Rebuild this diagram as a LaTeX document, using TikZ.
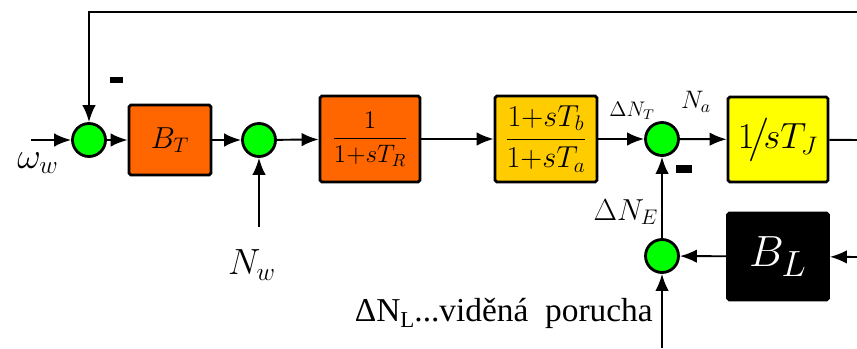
\documentclass[tikz,border=0pt]{standalone}
\usepackage{amsmath}
\usepackage{fontspec}
\setmainfont{LiberationSerif}[Extension=.ttf, UprightFont=*-Regular, BoldFont=*-Bold, ItalicFont=*-Italic, BoldItalicFont=*-BoldItalic]
\usepackage{tikz}
\usetikzlibrary{arrows.meta,positioning}
\definecolor{blkOrange}{HTML}{FF6600}
\definecolor{blkGold}{HTML}{FFCC00}
\definecolor{blkYellow}{HTML}{FFFF00}
\definecolor{sumGreen}{HTML}{00FF00}
\newcommand{\fsz}[1]{\fontsize{#1}{#1}\selectfont}

\begin{document}
\begin{tikzpicture}[
  x=0.02cm, y=-0.02cm,
  blk/.style={draw, line width=1.6pt, rounded corners=1pt, inner sep=0pt},
  sum/.style={circle, draw, line width=1.6pt, fill=sumGreen, minimum size=0.66cm, inner sep=0pt},
  minus/.style={fill=black, inner sep=0pt},
  sig/.style={-{Latex[length=3.4mm,width=2.7mm]}, line width=1.1pt},
  wire/.style={line width=1.1pt},
]
\useasboundingbox (0,0) rectangle (857,348);

% forward path
\node[sum] (s1) at (89,140) {};
\node[blk, fill=blkOrange, minimum width=1.64cm, minimum height=1.4cm, font=\fsz{17.28}] (bt) at (170,140) {$B_T$};
\node[sum] (s2) at (259,140) {};
\node[blk, fill=blkOrange, minimum width=2.0cm, minimum height=1.72cm, font=\fsz{14.4}] (tr) at (370,139) {$\dfrac{1}{1{+}sT_R}$};
\node[blk, fill=blkGold, minimum width=2.04cm, minimum height=1.72cm, font=\fsz{17.28}] (tab) at (546,139) {$\dfrac{1{+}sT_b}{1{+}sT_a}$};
\node[sum] (s3) at (662,139) {};
\node[blk, fill=blkYellow, minimum width=2.0cm, minimum height=1.7cm, font=\fsz{20.74}] (tj) at (778,139.5) {$1\!\big/\!sT_J$};

% load branch
\node[sum] (s4) at (662,256) {};
\node[blk, fill=black, text=white, minimum width=2.02cm, minimum height=1.74cm, font=\fsz{24.88}] (bl) at (778,256.5) {$B_L$};

% signs
\node[minus, minimum width=0.26cm, minimum height=0.12cm] (m1) at (116.5,80) {};
\node[minus, minimum width=0.32cm, minimum height=0.16cm] (m3) at (684,169) {};

% free ends
\coordinate (win) at (31,140);
\coordinate (ftop) at (857,12);
\coordinate (nwin) at (259,227);
\coordinate (out) at (857,140);
\coordinate (lin) at (857,257);
\coordinate (dnl) at (662,348);

\draw[sig] (win) -- (s1);
\draw[sig] (ftop) -| (s1.north);
\draw[sig] (s1) -- (bt);
\draw[sig] (bt) -- (s2);
\draw[sig] (nwin) -- (s2);
\draw[sig] (s2) -- (tr);
\draw[sig] (tr) -- (tab);
\draw[sig] (tab) -- (s3);
\draw[sig] (s3) -- (tj);
\draw[wire] (tj) -- (out);
\draw[sig] (lin) -- (bl);
\draw[sig] (bl) -- (s4);
\draw[sig] (s4) -- (s3);
\draw[sig] (dnl) -- (s4);

% labels
\node[font=\fsz{20.74}] (lw) at (38,163) {$\omega_w$};
\node[font=\fsz{20.74}] (lnw) at (252,265) {$N_w$};
\node[font=\fsz{12}] (lnt) at (632,111) {$\Delta N_T$};
\node[font=\fsz{14.4}] (lna) at (696,102) {$N_a$};
\node[font=\fsz{17.28}] (lne) at (626,212) {$\Delta N_E$};
\node[font=\fsz{19}, anchor=east, inner sep=0pt] (lnl) at (653,313) {ΔN\raisebox{-0.45ex}{\fsz{13}L}...viděná~ porucha};
\end{tikzpicture}
\end{document}
